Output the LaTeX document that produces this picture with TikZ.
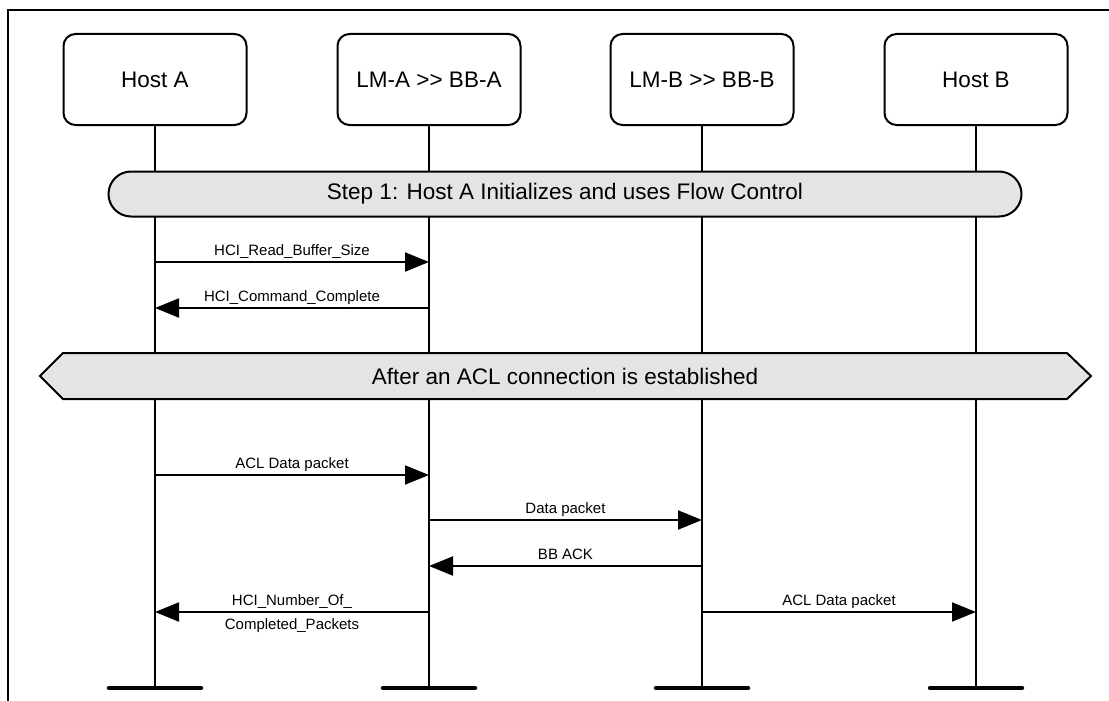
\documentclass[tikz,border=0pt]{standalone}
\usepackage{fontspec}
\setmainfont{Liberation Sans}
\usetikzlibrary{arrows.meta,positioning,shapes.misc,calc}
\definecolor{bandgray}{RGB}{228,228,228}

\begin{document}
\begin{tikzpicture}[x=1pt,y=-1pt,line width=2pt,
  entity/.style={draw,rounded corners=12pt,minimum width=183pt,minimum height=91pt,fill=white,font=\fontsize{22.5}{27}\selectfont},
  band/.style={draw,fill=bandgray,font=\fontsize{22.5}{27}\selectfont},
  msg/.style={-{Triangle[length=24pt,width=19pt]}},
  lbl/.style={font=\fontsize{15}{18}\selectfont,text height=11pt,text depth=3pt,inner sep=2pt}]
\useasboundingbox (0,0) rectangle (1109,701);
\draw (1109,10)--(8,10)--(8,701);
% lifelines
\foreach \n/\x/\lab in {hostA/155/Host A,lmA/429/LM-A >{}> BB-A,lmB/702/LM-B >{}> BB-B,hostB/976/Host B} {
  \node[entity] (\n) at (\x,79.5) {\lab};
  \coordinate (\n end) at (\x,688);
  \draw (\n) -- (\n end);
  \draw[line width=4.5pt,line cap=round] ($(\n end)+(-46,0)$) -- ($(\n end)+(46,0)$);}
\node[band,rounded rectangle,minimum width=913pt,minimum height=45pt,inner sep=0pt] (step1) at (565,194) {Step 1: Host A Initializes and uses Flow Control};
\draw[band] (40,376)--(63,353)--(1067,353)--(1091,376)--(1067,399)--(63,399)--cycle;
\node[font=\fontsize{22.5}{27}\selectfont] (acl) at (565,376) {After an ACL connection is established};
% messages
\foreach \a/\b/\y/\lab in {hostA/lmA/262/HCI\_Read\_Buffer\_Size,lmA/hostA/308/HCI\_Command\_Complete,hostA/lmA/475/ACL Data packet,lmA/lmB/520/Data packet,lmB/lmA/566/BB ACK,lmB/hostB/612/ACL Data packet}
  \draw[msg] (\a |- 0,\y) -- (\b |- 0,\y) node[lbl,midway,above=1pt]{\lab};
\draw[msg] (lmA |- 0,612) -- (hostA |- 0,612) node[lbl,midway,above=1pt]{HCI\_Number\_Of\_} node[lbl,midway,below=3pt]{Completed\_Packets};
\end{tikzpicture}
\end{document}
